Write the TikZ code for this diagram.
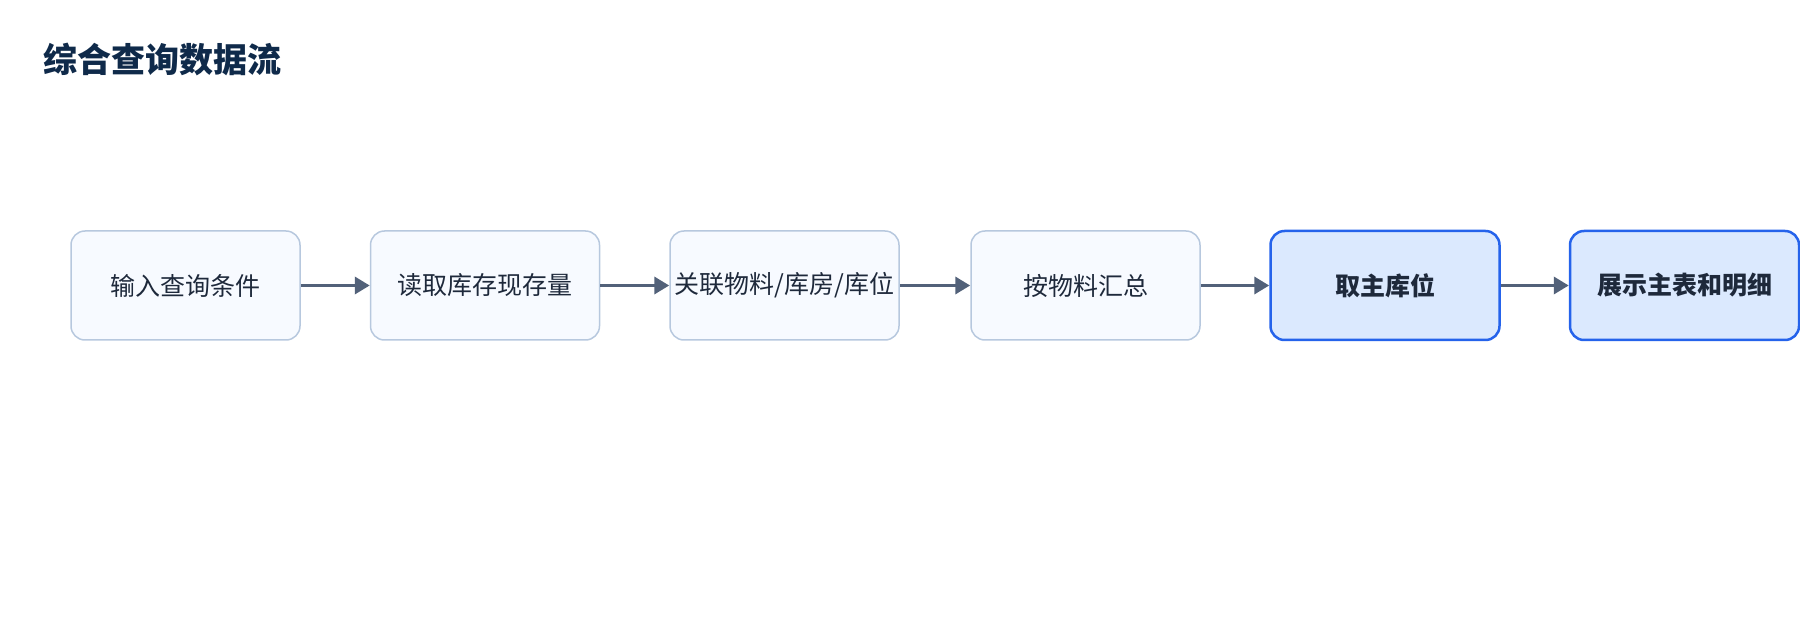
\documentclass[tikz,border=0pt]{standalone}
\usepackage{fontspec}
\setmainfont{Noto Sans CJK SC}
\usetikzlibrary{arrows.meta}
\definecolor{titlec}{HTML}{0F2A4A}
\definecolor{textc}{HTML}{1E293B}
\definecolor{lightfill}{HTML}{F7FAFF}
\definecolor{lightdraw}{HTML}{B7C8DE}
\definecolor{hifill}{HTML}{DBE9FE}
\definecolor{hidraw}{HTML}{2563EB}
\definecolor{arrowc}{HTML}{526179}
\tikzset{
  stepbox/.style={rectangle, rounded corners=14pt, minimum width=229pt, minimum height=109pt,
    inner sep=0pt, fill=lightfill, draw=lightdraw, line width=1.5pt, text=textc,
    font=\fontsize{25pt}{30pt}\selectfont},
  hibox/.style={stepbox, fill=hifill, draw=hidraw, line width=2.5pt, font=\fontsize{25pt}{30pt}\selectfont\bfseries},
  flow/.style={draw=arrowc, line width=3.5pt, -{Triangle[length=15pt,width=17pt]}, shorten >=0pt}
}
\begin{document}
\begin{tikzpicture}[x=1pt,y=-1pt]
\useasboundingbox (0,0) rectangle (1800,620);
\node[anchor=west, text=titlec, font=\fontsize{34pt}{40pt}\selectfont\bfseries] (title) at (40,59) {综合查询数据流};
\node[stepbox] (b1) at (185.5,285.5) {输入查询条件};
\node[stepbox] (b2) at (485,285.5) {读取库存现存量};
\node[stepbox] (b3) at (784.5,285.5) {关联物料/库房/库位};
\node[stepbox] (b4) at (1085.5,285.5) {按物料汇总};
\node[hibox] (b5) at (1385,285.5) {取主库位};
\node[hibox] (b6) at (1684.5,285.5) {展示主表和明细};
\draw[flow] (b1) -- (b2);
\draw[flow] (b2) -- (b3);
\draw[flow] (b3) -- (b4);
\draw[flow] (b4) -- (b5);
\draw[flow] (b5) -- (b6);
\end{tikzpicture}
\end{document}
